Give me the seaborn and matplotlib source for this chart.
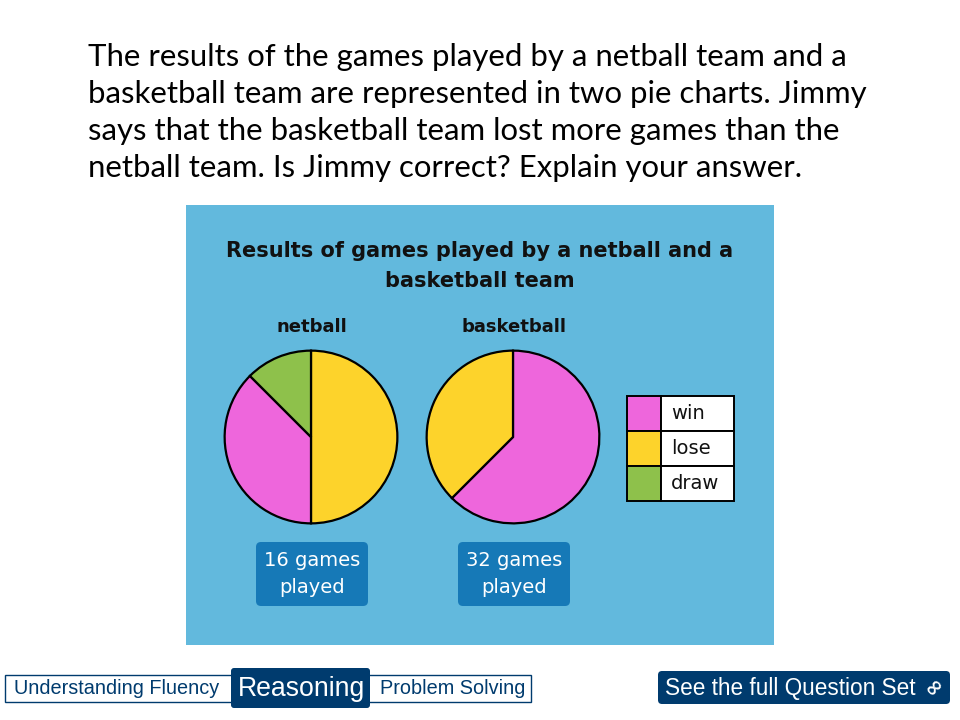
import matplotlib
matplotlib.use("Agg")
import matplotlib.pyplot as plt
from matplotlib.patches import Rectangle, FancyBboxPatch
import seaborn as sns

# ---- data ----
categories = ["win", "lose", "draw"]
netball_counts = {"win": 6, "lose": 8, "draw": 2}
basketball_counts = {"win": 20, "lose": 12, "draw": 0}
netball_order = ["lose", "win", "draw"]        # clockwise from 12 o'clock
basketball_order = ["win", "lose"]             # clockwise from 12 o'clock
games_played = [16, 32]
sports = ["netball", "basketball"]
question_lines = ["The results of the games played by a netball team and a",
                  "basketball team are represented in two pie charts. Jimmy",
                  "says that the basketball team lost more games than the",
                  "netball team. Is Jimmy correct? Explain your answer."]
chart_title = "Results of games played by a netball and a\nbasketball team"
nav_tabs = ["Understanding Fluency", "Reasoning", "Problem Solving"]
link_text = "See the full Question Set"

sns.set_theme(style="white")
plt.rcParams["font.family"] = ["Lato", "DejaVu Sans"]

colors = {"win": "#EE66DC", "lose": "#FDD32B", "draw": "#8EC14B"}
panel_blue = "#62B9DD"
box_blue = "#1679B7"
navy = "#003B6E"
panel_font = "DejaVu Sans"

fig = plt.figure(figsize=(9.6, 7.2), dpi=100)
fig.patch.set_facecolor("white")
ov = fig.add_axes([0, 0, 1, 1])
ov.set_xlim(0, 960)
ov.set_ylim(720, 0)
ov.axis("off")

# question text
for i, line in enumerate(question_lines):
    ov.text(88, 66 + 37 * i, line, fontsize=22.4, color="black",
            va="baseline", ha="left")

# blue panel
ov.add_patch(Rectangle((186, 205), 588, 440, facecolor=panel_blue, edgecolor="none"))
ov.text(480, 266, chart_title, fontsize=15, fontweight="bold", ha="center",
        va="center", color="#111111", linespacing=1.6, family=panel_font)

# pies
pie_centers = [(311, 437), (513, 437)]
orders = [netball_order, basketball_order]
counts = [netball_counts, basketball_counts]
size = 190
for (cx, cy), order, cnt, name in zip(pie_centers, orders, counts, sports):
    pax = fig.add_axes([(cx - size / 2) / 960, (720 - cy - size / 2) / 720,
                        size / 960, size / 720])
    vals = [cnt[k] for k in order]
    pax.pie(vals, colors=[colors[k] for k in order], startangle=90,
            counterclock=False, radius=1.0,
            wedgeprops=dict(edgecolor="black", linewidth=1.6))
    pax.set_xlim(-1.1, 1.1)
    pax.set_ylim(-1.1, 1.1)
    pax.set_aspect("equal")
    pax.axis("off")
    ov.text(cx + 1, 327, name, fontsize=13, fontweight="bold", ha="center",
            va="center", color="#111111", family=panel_font)

# games played boxes
for (cx, _), g in zip(pie_centers, games_played):
    ov.add_patch(FancyBboxPatch((cx - 55, 542), 112, 64,
                                boxstyle="round,pad=0,rounding_size=5",
                                facecolor=box_blue, edgecolor="none"))
    ov.text(cx + 1, 574, f"{g} games\nplayed", fontsize=14, color="white",
            ha="center", va="center", linespacing=1.5, family=panel_font)

# legend table
lx, ly, rh = 627, 396, 35
for i, cat in enumerate(categories):
    y = ly + i * rh
    ov.add_patch(Rectangle((lx, y), 34, rh, facecolor=colors[cat],
                           edgecolor="black", linewidth=1.4))
    ov.add_patch(Rectangle((lx + 34, y), 73, rh, facecolor="white",
                           edgecolor="black", linewidth=1.4))
    ov.text(lx + 44, y + rh / 2, cat, fontsize=14, ha="left", va="center",
            color="#111111", family=panel_font)

# nav bar
ov.add_patch(Rectangle((5, 675), 526, 27, facecolor="white", edgecolor=navy,
                       linewidth=1.0))
ov.add_patch(FancyBboxPatch((231, 668), 139, 40,
                            boxstyle="round,pad=0,rounding_size=3",
                            facecolor=navy, edgecolor="none"))
ov.text(117, 689, nav_tabs[0], fontsize=14.3, family="Liberation Sans",
        ha="center", va="center", color=navy)
ov.text(301, 689, nav_tabs[1], fontsize=19.2, family="Liberation Sans",
        ha="center", va="center", color="white")
ov.text(453, 689, nav_tabs[2], fontsize=14.3, family="Liberation Sans",
        ha="center", va="center", color=navy)

ov.add_patch(FancyBboxPatch((658, 671), 292, 33,
                            boxstyle="round,pad=0,rounding_size=4",
                            facecolor=navy, edgecolor="none"))
ov.text(790, 688, link_text, fontsize=16.3, family="Liberation Sans",
        ha="center", va="center", color="white")
ov.text(935, 687, "\u221e", fontsize=16, family="DejaVu Sans", rotation=45,
        ha="center", va="center", color="white", fontweight="bold")

fig.savefig("out.png", dpi=100, facecolor="white")
